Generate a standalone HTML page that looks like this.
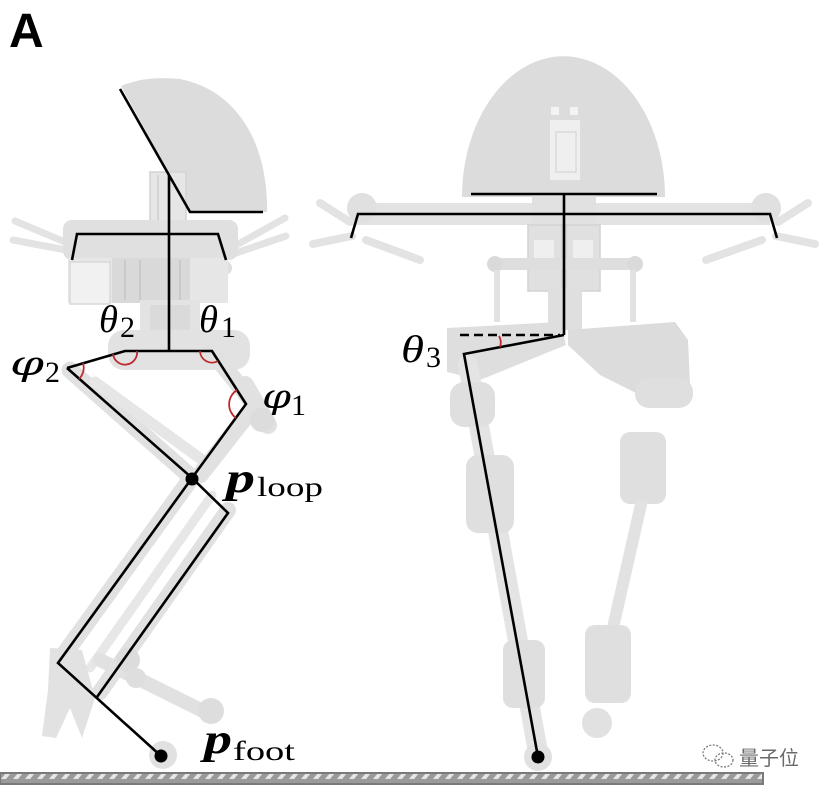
<!DOCTYPE html>
<html><head><meta charset="utf-8"><style>
html,body{margin:0;padding:0;background:#fff;}
svg{display:block;}
.m{font-family:"Liberation Serif",serif;font-style:italic;fill:#000;}
.v{font-family:"DejaVu Serif",serif;font-style:italic;fill:#000;}
.r{font-family:"Liberation Serif",serif;fill:#000;}
.b{font-family:"Liberation Serif",serif;font-style:italic;font-weight:bold;fill:#000;}
</style></head><body>
<svg width="824" height="792" viewBox="0 0 824 792" xmlns="http://www.w3.org/2000/svg">
<defs>
<pattern id="hatch" x="0" y="0" width="12" height="11" patternUnits="userSpaceOnUse">
<rect width="12" height="11" fill="#9a9a9a"/>
<path d="M1,9 L6,3 L11,3 L6,9 Z" fill="#e6e6e6"/>
</pattern>
</defs>

<!-- ===== LEFT ROBOT (grey) ===== -->
<g fill="#e2e2e2" stroke="none">
<path d="M121,86 C140,78 160,77 180,79 C235,90 268,140 267,212 L190,212 Z" fill="#dcdcdc"/>
<rect x="150" y="172" width="36" height="55" fill="#e6e6e6" stroke="#d4d4d4" stroke-width="1.5"/>
<line x1="158" y1="175" x2="158" y2="225" stroke="#d4d4d4" stroke-width="2"/>
<g stroke="#e3e3e3" stroke-width="7" stroke-linecap="round">
<line x1="15" y1="221" x2="65" y2="242"/>
<line x1="13" y1="240" x2="66" y2="250"/>
<line x1="233" y1="247" x2="285" y2="218"/>
<line x1="233" y1="254" x2="286" y2="236"/>
</g>
<rect x="63" y="220" width="175" height="40" rx="9" fill="#e0e0e0"/>
<circle cx="75" cy="268" r="7" fill="#dedede"/>
<circle cx="225" cy="268" r="7" fill="#dedede"/>
<rect x="68" y="258" width="160" height="45" fill="#e6e6e6"/>
<rect x="70" y="262" width="40" height="42" fill="#f1f1f1" stroke="#d8d8d8" stroke-width="1.5"/>
<rect x="112" y="258" width="78" height="45" fill="#d9d9d9"/>
<g stroke="#c9c9c9" stroke-width="2">
<line x1="125" y1="260" x2="125" y2="300"/><line x1="140" y1="260" x2="140" y2="300"/>
<line x1="180" y1="260" x2="180" y2="300"/>
</g>
<rect x="140" y="300" width="60" height="40" fill="#e3e3e3"/>
<rect x="150" y="305" width="40" height="30" fill="#dadada"/>
<rect x="108" y="330" width="142" height="40" rx="16" fill="#e2e2e2"/>
<g stroke="#e1e1e1" stroke-linecap="round" fill="none">
<line x1="70" y1="370" x2="190" y2="476" stroke-width="17"/>
<line x1="95" y1="382" x2="205" y2="462" stroke-width="11" stroke="#e6e6e6"/>
<polyline points="212,352 255,405 200,475" stroke-width="17"/>
<line x1="245" y1="385" x2="268" y2="425" stroke-width="18"/>
<line x1="190" y1="480" x2="60" y2="660" stroke-width="17"/>
<line x1="228" y1="510" x2="100" y2="692" stroke-width="16"/>
<line x1="212" y1="495" x2="90" y2="668" stroke-width="9" stroke="#e7e7e7"/>
<line x1="100" y1="660" x2="205" y2="712" stroke-width="14"/>
</g>
<circle cx="262" cy="420" r="12" fill="#dcdcdc"/>
<circle cx="128" cy="660" r="12" fill="#dcdcdc"/>
<circle cx="136" cy="678" r="10" fill="#dedede"/>
<circle cx="211" cy="711" r="13" fill="#dddddd"/>
<polygon points="50,648 82,650 95,698 82,738 70,708 56,738 42,736 48,690" fill="#e2e2e2"/>
<circle cx="163" cy="755" r="14" fill="#e1e1e1"/>
</g>

<!-- ===== RIGHT ROBOT (grey) ===== -->
<g stroke="none">
<path d="M462,197 A101,140 0 0 1 665,197 Z" fill="#dcdcdc"/>
<rect x="550" y="120" width="30" height="60" fill="#efefef"/>
<rect x="556" y="132" width="20" height="40" fill="none" stroke="#dadada" stroke-width="1.5"/>
<rect x="551" y="107" width="8" height="8" fill="#f3f3f3"/>
<rect x="570" y="107" width="8" height="8" fill="#f3f3f3"/>
<rect x="355" y="203" width="415" height="22" fill="#e3e3e3"/>
<circle cx="362" cy="208" r="15" fill="#e0e0e0"/>
<circle cx="766" cy="208" r="15" fill="#e0e0e0"/>
<g stroke="#e3e3e3" stroke-width="8" stroke-linecap="round">
<line x1="320" y1="203" x2="350" y2="222"/>
<line x1="313" y1="244" x2="352" y2="236"/>
<line x1="366" y1="240" x2="420" y2="260"/>
<line x1="808" y1="203" x2="778" y2="222"/>
<line x1="815" y1="244" x2="776" y2="236"/>
<line x1="762" y1="240" x2="706" y2="260"/>
</g>
<rect x="532" y="193" width="64" height="35" fill="#e1e1e1"/>
<rect x="528" y="225" width="34" height="66" fill="#e0e0e0" stroke="#d2d2d2" stroke-width="1.5"/>
<rect x="566" y="225" width="34" height="66" fill="#e0e0e0" stroke="#d2d2d2" stroke-width="1.5"/>
<rect x="534" y="240" width="20" height="20" fill="#efefef"/>
<rect x="573" y="240" width="20" height="20" fill="#efefef"/>
<rect x="490" y="258" width="150" height="12" rx="6" fill="#dedede"/>
<circle cx="495" cy="264" r="8" fill="#dadada"/>
<circle cx="635" cy="264" r="8" fill="#dadada"/>
<line x1="497" y1="270" x2="497" y2="322" stroke="#e2e2e2" stroke-width="6"/>
<line x1="633" y1="270" x2="633" y2="322" stroke="#e2e2e2" stroke-width="6"/>
<rect x="548" y="288" width="34" height="42" fill="#dfdfdf"/>
<polygon points="447,328 560,322 566,345 480,380 447,372" fill="#dedede"/>
<polygon points="568,330 675,322 688,340 690,385 650,400 600,375 568,345" fill="#dcdcdc"/>
<line x1="468" y1="365" x2="538" y2="752" stroke="#e4e4e4" stroke-width="20" stroke-linecap="round"/>
<rect x="450" y="382" width="45" height="45" rx="14" fill="#dfdfdf"/>
<rect x="466" y="455" width="48" height="78" rx="12" fill="#dfdfdf"/>
<rect x="503" y="640" width="42" height="68" rx="10" fill="#dfdfdf"/>
<circle cx="538" cy="757" r="14" fill="#e1e1e1"/>
<rect x="635" y="378" width="58" height="30" rx="14" fill="#dfdfdf"/>
<rect x="620" y="432" width="46" height="72" rx="10" fill="#dfdfdf"/>
<line x1="642" y1="500" x2="612" y2="632" stroke="#e2e2e2" stroke-width="12"/>
<rect x="585" y="625" width="46" height="78" rx="10" fill="#dfdfdf"/>
<circle cx="597" cy="723" r="15" fill="#e1e1e1"/>
</g>

<!-- ===== BLACK SKELETON LEFT ===== -->
<g stroke="#000" stroke-width="2.6" fill="none" stroke-linejoin="miter">
<polyline points="120,89 190,212 263,212"/>
<line x1="169" y1="175" x2="169" y2="351"/>
<polyline points="72,260 77,234 218,234 226,260"/>
<polyline points="67,368 125,351 212,351 246,404 192,478 67,368"/>
<polyline points="192,478 58,663 161,756"/>
<polyline points="192,478 228,513 97,697"/>
</g>
<g stroke="#c0282d" stroke-width="1.8" fill="none">
<path d="M113,354 A12,12 0 0 0 137,351"/>
<path d="M200,351 A12,12 0 0 0 218,361"/>
<path d="M83,363 A16,16 0 0 1 79,379"/>
<path d="M237,390 A17,17 0 0 0 236,418"/>
</g>
<circle cx="192" cy="479" r="6.5" fill="#000"/>
<circle cx="161" cy="756" r="6.5" fill="#000"/>

<!-- ===== BLACK SKELETON RIGHT ===== -->
<g stroke="#000" stroke-width="2.6" fill="none">
<line x1="471" y1="194" x2="657" y2="194"/>
<line x1="564" y1="194" x2="564" y2="335"/>
<polyline points="351,238 358,214 770,214 777,238"/>
<polyline points="564,335 464,354 538,757"/>
<line x1="460" y1="335" x2="560" y2="335" stroke-dasharray="9,5"/>
</g>
<path d="M499,336 Q502,341 500,347" stroke="#c0282d" stroke-width="1.8" fill="none"/>
<circle cx="538" cy="757" r="6.5" fill="#000"/>

<!-- ===== LABELS ===== -->
<text x="9" y="47" font-family="Liberation Sans, sans-serif" font-weight="bold" font-size="48">A</text>
<text class="m" x="99" y="332" font-size="38" textLength="19" lengthAdjust="spacingAndGlyphs">θ</text><text class="r" x="120" y="337" font-size="30">2</text>
<text class="m" x="199" y="332" font-size="38" textLength="19" lengthAdjust="spacingAndGlyphs">θ</text><text class="r" x="221" y="337" font-size="30">1</text>
<text class="v" x="10" y="375" font-size="34" textLength="34" lengthAdjust="spacingAndGlyphs">φ</text><text class="r" x="45" y="382" font-size="30">2</text>
<text class="v" x="262" y="408" font-size="34" textLength="29" lengthAdjust="spacingAndGlyphs">φ</text><text class="r" x="291" y="415" font-size="30">1</text>
<text class="m" x="401" y="362" font-size="38" textLength="23" lengthAdjust="spacingAndGlyphs">θ</text><text class="r" x="426" y="367" font-size="30">3</text>
<text class="b" x="226" y="492" font-size="42" textLength="29" lengthAdjust="spacingAndGlyphs">p</text>
<text class="r" x="257" y="496" font-size="27" textLength="66" lengthAdjust="spacingAndGlyphs">loop</text>
<text class="b" x="204" y="753" font-size="42" textLength="28" lengthAdjust="spacingAndGlyphs">p</text>
<text class="r" x="233" y="760" font-size="27" textLength="62" lengthAdjust="spacingAndGlyphs">foot</text>

<!-- ground -->
<rect x="0" y="773" width="763" height="11" fill="url(#hatch)" stroke="#7a7a7a" stroke-width="2"/>

<!-- watermark -->
<g fill="none" stroke="#7a7a7a" stroke-width="1.3" stroke-dasharray="2,1.5">
<ellipse cx="713" cy="753" rx="10" ry="8"/>
<ellipse cx="724" cy="760" rx="9" ry="7"/>
</g>
<text x="739" y="765" font-family="Liberation Sans, 'Noto Sans CJK SC', sans-serif" font-size="20" fill="#6a6a6a">量子位</text>
</svg>
</body></html>
